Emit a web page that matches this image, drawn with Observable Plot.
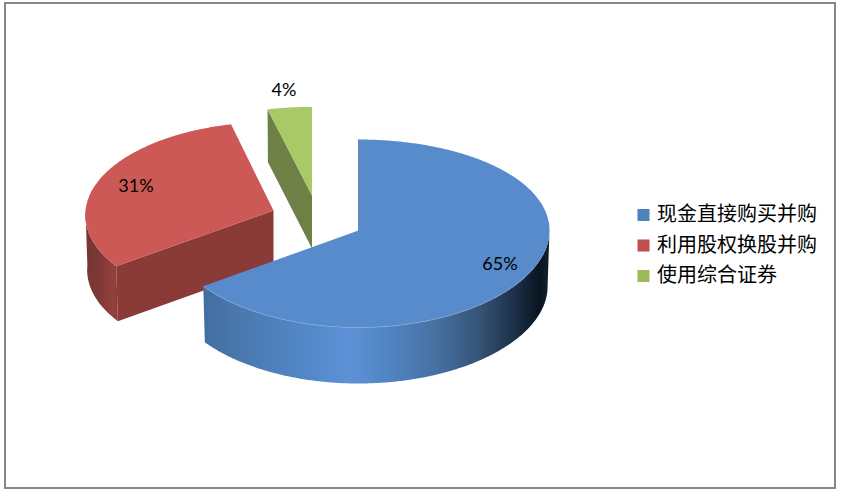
<!DOCTYPE html>
<html><head><meta charset="utf-8">
<script src="https://cdn.jsdelivr.net/npm/d3@7"></script>
<script src="https://cdn.jsdelivr.net/npm/@observablehq/plot@0.6"></script>
<style>html,body{margin:0;padding:0;background:#fff}svg{display:block}</style>
</head><body><div id="chart"></div>
<script>
const categories = ["现金直接购买并购", "利用股权换股并购", "使用综合证券"];
const shares = [65.1, 31.1, 3.8];
const topColors = ["#588bcb", "#cd5957", "#a8c965"];
const legendColors = ["#4f81bd", "#c0504d", "#9bbb59"];
const cutColors = [null, "#8a3a37", "#6e8045"];

// 3D layout of each exploded slice, in pixels
const geom = [
  {cx: 358, cy: 230, rx: 191, ry: 93.9, k: 0.032, depth: 56, xPersp: 0},
  {cx: 273, cy: 210, rx: 188, ry: 92.9, k: 0.0486, depth: 55, xPersp: 1},
  {cx: 311.5, cy: 195, rx: 188, ry: 92.9, k: 0.0486, depth: 53, xPersp: 0}
];
const W = 842, H = 497;
const rad = d => d * Math.PI / 180;
function pt(g, deg, down = 0) {
  const t = rad(deg), u = -Math.cos(t);
  const shrink = down ? 0.99 : 1;
  const px = g.xPersp ? 1 / (1 - g.k * u) : 1;
  return {
    x: g.cx + g.rx * shrink * px * Math.sin(t),
    y: g.cy + g.ry * u / (1 - g.k * u) + down
  };
}
function arc(g, a0, a1, down = 0) {
  const n = Math.max(2, Math.ceil(Math.abs(a1 - a0) * 2));
  return d3.range(n + 1).map(i => pt(g, a0 + (a1 - a0) * i / n, down));
}
const total = d3.sum(shares);
let acc = 0;
const slices = shares.map((v, i) => {
  const a0 = acc / total * 360; acc += v;
  return {i, a0, a1: acc / total * 360, g: geom[i]};
});
const [blue, red, green] = slices;
const apex = (g, down = 0) => ({x: g.cx, y: g.cy + down});
const topFace = s => [apex(s.g), ...arc(s.g, s.a0, s.a1)];
const outerWall = (s, a0, a1) => [...arc(s.g, a0, a1), ...arc(s.g, a1, a0, s.g.depth)];
const cutWall = (g, p) => {
  const bottom = {x: p.x + (g.cx - p.x) * 0.01, y: p.y + g.depth};
  return [apex(g), p, bottom, apex(g, g.depth)];
};
const poly = (pts, fill) => Plot.line(pts, {x: "x", y: "y", fill, stroke: "none", curve: "linear"});

function gradient(defs, id, stops) {
  const lg = defs.append("linearGradient").attr("id", id)
    .attr("x1", 0).attr("y1", 0).attr("x2", 1).attr("y2", 0);
  stops.forEach(([o, c]) => lg.append("stop").attr("offset", o).attr("stop-color", c));
}
const defsMark = () => {
  const defs = d3.create("svg:defs");
  gradient(defs, "blueWall", [[0, "#426e9f"], [0.1, "#4a78ae"], [0.3, "#5288c8"], [0.42, "#5c91d6"], [0.52, "#5287c6"],
    [0.68, "#456f9f"], [0.8, "#355375"], [0.9, "#1c3048"], [0.97, "#0a1520"], [1, "#11202e"]]);
  gradient(defs, "redWall", [[0, "#733634"], [0.4, "#7e3835"], [0.85, "#94403c"], [1, "#8a3a37"]]);
  return defs.node();
};

const legendRows = categories.map((name, i) => ({name, color: legendColors[i], y: 214.5 + i * 30.5}));
const labels = [
  {t: Math.round(shares[0]) + "%", x: 499.5, y: 264},
  {t: Math.round(shares[1]) + "%", x: 135.5, y: 186},
  {t: Math.round(shares[2]) + "%", x: 283.5, y: 90}
];

const chart = Plot.plot({
  width: W, height: H,
  margin: 0,
  style: {background: "#fff", overflow: "visible"},
  x: {axis: null, domain: [0, W], range: [0, W]},
  y: {axis: null, domain: [0, H], range: [0, H]},
  marks: [
    defsMark,
    Plot.rect([{}], {x1: () => 5, x2: () => 835, y1: () => 3, y2: () => 488, fill: "#fff", stroke: "#868686", strokeWidth: 2}),
    // green slice
    poly(cutWall(green.g, pt(green.g, green.a0)), cutColors[2]),
    poly(topFace(green), topColors[2]),
    // red slice
    poly(outerWall(red, red.a0, 270), "url(#redWall)"),
    poly(cutWall(red.g, pt(red.g, red.a0)), cutColors[1]),
    poly(topFace(red), topColors[1]),
    // blue slice
    poly(outerWall(blue, 90, blue.a1), "url(#blueWall)"),
    poly(topFace(blue), topColors[0]),
    Plot.line(arc(blue.g, 120, blue.a1), {x: "x", y: "y", stroke: "#86aad8", strokeWidth: 0.7}),
    Plot.line([apex(blue.g), pt(blue.g, 0)], {x: "x", y: "y", stroke: "#40607f", strokeWidth: 0.8, strokeOpacity: 0.7}),
    // data labels
    Plot.text(labels, {x: "x", y: "y", text: "t", fontFamily: "Lato", fontSize: 18, fill: "#000", textAnchor: "middle", lineAnchor: "middle"}),
    // legend
    Plot.dot(legendRows, {x: () => 643, y: "y", symbol: "square", r: 6.8, fill: "color", stroke: "none"}),
    Plot.text(legendRows, {x: () => 656.5, y: "y", text: "name", fontFamily: "Noto Sans CJK SC", fontSize: 20, fill: "#000", textAnchor: "start", lineAnchor: "middle"})
  ]
});
document.getElementById("chart").append(chart);
</script></body></html>
